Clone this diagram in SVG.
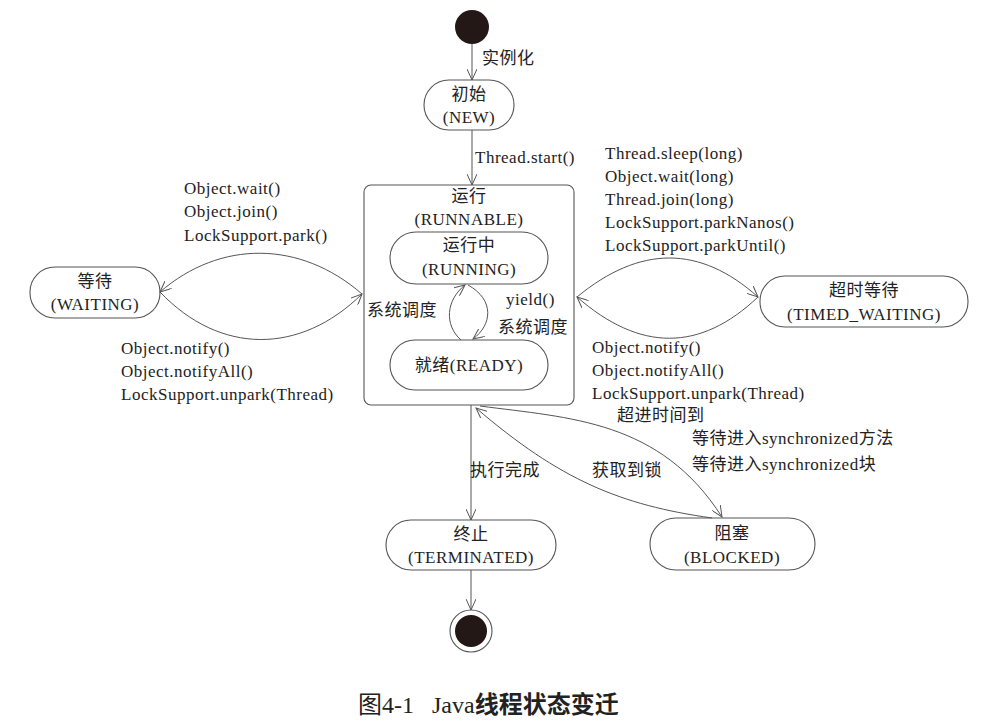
<svg xmlns="http://www.w3.org/2000/svg" width="981" height="723" viewBox="0 0 981 723">
<defs>
<marker id="arr" markerWidth="12" markerHeight="10" refX="11" refY="5" orient="auto" markerUnits="userSpaceOnUse">
<path d="M0,0 L11,5 L0,10" fill="none" stroke="#555" stroke-width="1"/>
</marker>
<style>
.n{fill:#fff;stroke:#555;stroke-width:1.1}
.c{fill:none;stroke:#555;stroke-width:1}
text{font-family:"Liberation Serif","Noto Sans CJK SC",serif;font-size:17px;letter-spacing:0.5px;fill:#222}
.m{text-anchor:middle}
.cap{font-size:24px;letter-spacing:0}
</style>
</defs>
<rect width="981" height="723" fill="#fff"/>
<g id="start"><circle cx="472" cy="27" r="17" fill="#231815"/></g>
<g id="new">
<rect class="n" x="424" y="80" width="90" height="50" rx="25"/>
<text class="m" x="469" y="100">初始</text>
<text class="m" x="469" y="123">(NEW)</text>
</g>
<g id="runnable">
<rect class="n" x="364" y="185" width="210" height="220" rx="7"/>
<text class="m" x="469" y="202">运行</text>
<text class="m" x="469" y="225">(RUNNABLE)</text>
</g>
<g id="running">
<rect class="n" x="390" y="232" width="158" height="52" rx="26"/>
<text class="m" x="469" y="251">运行中</text>
<text class="m" x="469" y="275">(RUNNING)</text>
</g>
<g id="ready">
<rect class="n" x="390" y="340" width="158" height="50" rx="25"/>
<text class="m" x="469" y="371">就绪(READY)</text>
</g>
<g id="waiting">
<rect class="n" x="30" y="267" width="130" height="51" rx="25"/>
<text class="m" x="95" y="287">等待</text>
<text class="m" x="95" y="310">(WAITING)</text>
</g>
<g id="timed">
<rect class="n" x="760" y="276" width="208" height="51" rx="25"/>
<text class="m" x="864" y="296">超时等待</text>
<text class="m" x="864" y="320">(TIMED_WAITING)</text>
</g>
<g id="terminated">
<rect class="n" x="386" y="520" width="170" height="50" rx="25"/>
<text class="m" x="471" y="540">终止</text>
<text class="m" x="471" y="563">(TERMINATED)</text>
</g>
<g id="blocked">
<rect class="n" x="650" y="518" width="165" height="52" rx="26"/>
<text class="m" x="732" y="539">阻塞</text>
<text class="m" x="732" y="563">(BLOCKED)</text>
</g>
<g id="end">
<circle cx="471" cy="631" r="21" fill="#fff" stroke="#555" stroke-width="1.1"/>
<circle cx="471" cy="631" r="16" fill="#231815"/>
</g>
<g id="connectors">
<line class="c" x1="472" y1="44" x2="472" y2="80" marker-end="url(#arr)"/>
<line class="c" x1="472" y1="130" x2="472" y2="185" marker-end="url(#arr)"/>
<path class="c" d="M362,294 C300,240 220,240 160,292" marker-end="url(#arr)"/>
<path class="c" d="M160,292 C220,355 300,355 362,294" marker-end="url(#arr)"/>
<path class="c" d="M577,297 C640,245 700,245 758,297" marker-end="url(#arr)"/>
<path class="c" d="M758,297 C700,352 640,352 577,297" marker-end="url(#arr)"/>
<path class="c" d="M461,340 C444,325 446,300 465,285" marker-end="url(#arr)"/>
<path class="c" d="M468,285 C495,300 492,325 473,339" marker-end="url(#arr)"/>
<line class="c" x1="471" y1="405" x2="471" y2="520" marker-end="url(#arr)"/>
<line class="c" x1="471" y1="570" x2="471" y2="610" marker-end="url(#arr)"/>
<path class="c" d="M480,406 C570,418 660,420 722,517" marker-end="url(#arr)"/>
<path class="c" d="M712,518 C620,505 560,480 476,408" marker-end="url(#arr)"/>
</g>
<g id="labels">
<text x="482" y="64">实例化</text>
<text x="475" y="163">Thread.start()</text>
<text x="184" y="194">Object.wait()</text>
<text x="184" y="217">Object.join()</text>
<text x="184" y="241">LockSupport.park()</text>
<text x="121" y="354">Object.notify()</text>
<text x="121" y="377">Object.notifyAll()</text>
<text x="121" y="400">LockSupport.unpark(Thread)</text>
<text x="605" y="159">Thread.sleep(long)</text>
<text x="605" y="182">Object.wait(long)</text>
<text x="605" y="205">Thread.join(long)</text>
<text x="605" y="228">LockSupport.parkNanos()</text>
<text x="605" y="251">LockSupport.parkUntil()</text>
<text x="592" y="353">Object.notify()</text>
<text x="592" y="376">Object.notifyAll()</text>
<text x="592" y="399">LockSupport.unpark(Thread)</text>
<text x="617" y="421">超进时间到</text>
<text x="367" y="316">系统调度</text>
<text x="506" y="305">yield()</text>
<text x="498" y="333">系统调度</text>
<text x="692" y="444">等待进入synchronized方法</text>
<text x="692" y="470">等待进入synchronized块</text>
<text x="592" y="476">获取到锁</text>
<text x="470" y="476">执行完成</text>
</g>
<text class="cap" x="358" y="713">图4-1<tspan x="432">Java</tspan><tspan font-weight="bold">线程状态变迁</tspan></text>
</svg>
